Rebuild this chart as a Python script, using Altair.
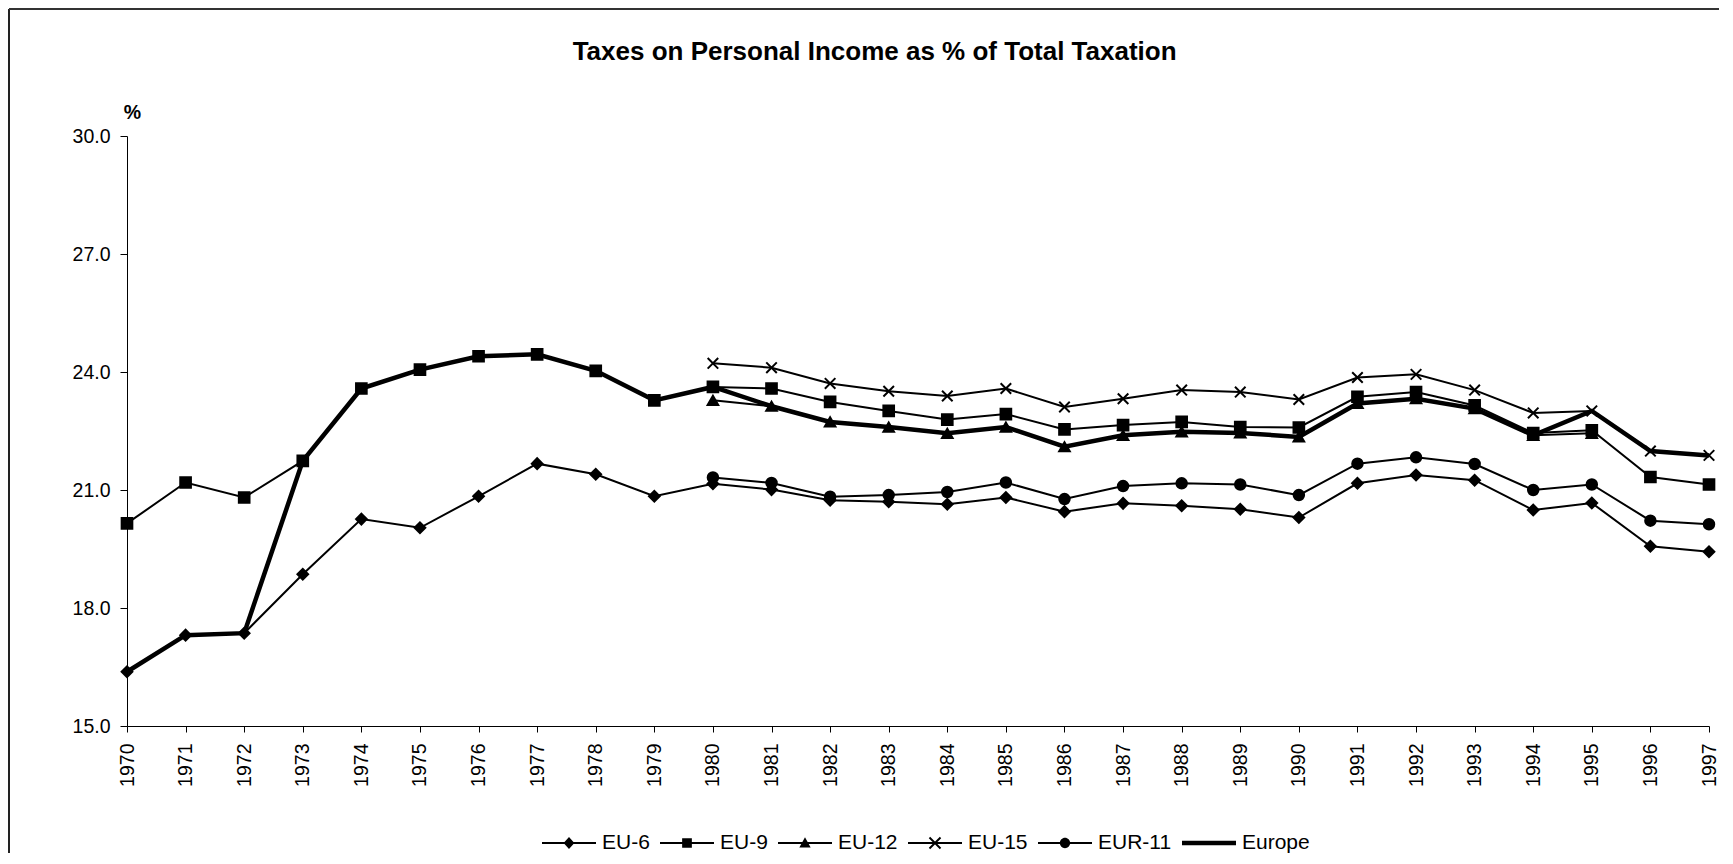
import altair as alt
import pandas as pd

TITLE = "Taxes on Personal Income as % of Total Taxation"
YEARS = list(range(1970, 1998))
SERIES = ["EU-6", "EU-9", "EU-12", "EU-15", "EUR-11", "Europe"]
Y_TICKS = [15, 18, 21, 24, 27, 30]

# values
EU6 = [16.38, 17.31, 17.36, 18.86, 20.26, 20.04, 20.84, 21.67, 21.40, 20.84,
       21.16, 21.01, 20.74, 20.70, 20.64, 20.81, 20.45, 20.66, 20.60, 20.51,
       20.30, 21.17, 21.38, 21.25, 20.49, 20.67, 19.57, 19.43]            # 1970-1997
EU9 = [20.15, 21.19, 20.81, 21.74, 23.58, 24.06, 24.40, 24.45, 24.03, 23.28,
       23.62, 23.58, 23.24, 23.01, 22.79, 22.93, 22.54, 22.65, 22.73, 22.60,
       22.59, 23.37, 23.49, 23.15, 22.45, 22.52, 21.33, 21.14]            # 1970-1997
EU12 = [23.28, 23.13, 22.73, 22.60, 22.44, 22.60, 22.10, 22.39, 22.48, 22.45,
        22.35, 23.20, 23.32, 23.07, 22.39, 22.44]                          # 1980-1995
EU15 = [24.22, 24.11, 23.71, 23.51, 23.39, 23.58, 23.11, 23.32, 23.54, 23.49,
        23.30, 23.86, 23.94, 23.54, 22.96, 23.01, 21.99, 21.88]            # 1980-1997
EUR11 = [21.32, 21.18, 20.83, 20.87, 20.95, 21.19, 20.77, 21.10, 21.17, 21.14,
         20.87, 21.67, 21.83, 21.66, 21.00, 21.14, 20.22, 20.13]           # 1980-1997
EUROPE = [16.38, 17.31, 17.36, 21.74, 23.58, 24.06, 24.40, 24.45, 24.03, 23.28,
          23.62, 23.13, 22.73, 22.60, 22.44, 22.60, 22.10, 22.39, 22.48, 22.45,
          22.35, 23.20, 23.32, 23.07, 22.39, 23.01, 21.99, 21.88]          # 1970-1997

STARTS = {"EU-6": 1970, "EU-9": 1970, "EU-12": 1980, "EU-15": 1980, "EUR-11": 1980, "Europe": 1970}
VALUES = {"EU-6": EU6, "EU-9": EU9, "EU-12": EU12, "EU-15": EU15, "EUR-11": EUR11, "Europe": EUROPE}

rows = []
for name in SERIES:
    for i, v in enumerate(VALUES[name]):
        rows.append({"year": STARTS[name] + i, "value": v, "series": name})
df = pd.DataFrame(rows)

FONT = "Liberation Sans"

# marker styles
X_PATH = "M-1,-1L1,1M-1,1L1,-1"
MARKERS = ["diamond", "square", "triangle-up", X_PATH, "circle"]
SIZES = [115, 110, 135, 160, 105]

# legend symbols: line + marker, drawn as filled paths in [-1,1] space
LINE = "M-1,-0.037H1V0.037H-1Z "
LEG_PATHS = [
    LINE + "M-0.2,0L0,-0.22L0.2,0L0,0.22Z",
    LINE + "M-0.18,-0.18H0.18V0.18H-0.18Z",
    LINE + "M0,-0.21L0.21,0.17H-0.21Z",
    LINE + "M-0.23,-0.18L-0.18,-0.23L0.23,0.18L0.18,0.23Z M-0.23,0.18L0.18,-0.23L0.23,-0.18L-0.18,0.23Z",
    LINE + "M-0.19,0A0.19,0.19 0 1,1 0.19,0A0.19,0.19 0 1,1 -0.19,0Z",
    "M-1,-0.085H1V0.085H-1Z",
]

x_enc = alt.X(
    "year:Q",
    scale=alt.Scale(domain=[1970, 1997], nice=False, zero=False),
    axis=alt.Axis(values=YEARS, format="d", labelAngle=-90, title=None,
                  tickSize=6, labelPadding=11, labelFontSize=19.5),
)
y_enc = alt.Y(
    "value:Q",
    scale=alt.Scale(domain=[15, 30], nice=False, zero=False),
    axis=alt.Axis(values=Y_TICKS, format=".1f", title="%", titleAngle=0,
                  titleX=5, titleY=-24, titleAlign="center", titleBaseline="middle",
                  titleFontWeight="bold", titleFontSize=19.5, titleFont=FONT,
                  titleColor="black", tickSize=7, labelPadding=10, labelFontSize=19.5),
)

base = alt.Chart(df)

thin = base.transform_filter(alt.datum.series != "Europe").mark_line(
    color="black", strokeWidth=2
).encode(x=x_enc, y=y_enc, detail="series:N")

thick = base.transform_filter(alt.datum.series == "Europe").mark_line(
    color="black", strokeWidth=4.5
).encode(x=x_enc, y=y_enc)

pts = base.transform_filter(alt.datum.series != "Europe").mark_point(
    filled=True, fill="black", stroke="black", strokeWidth=2, opacity=1
).encode(
    x=x_enc, y=y_enc,
    shape=alt.Shape("series:N", scale=alt.Scale(domain=SERIES[:5], range=MARKERS), legend=None),
    size=alt.Size("series:O", scale=alt.Scale(domain=SERIES[:5], range=SIZES), legend=None),
)

leg = base.transform_calculate(lg="datum.series").mark_point(
    filled=True, fill="black", opacity=0
).encode(
    x=x_enc, y=y_enc,
    shape=alt.Shape(
        "lg:N",
        scale=alt.Scale(domain=SERIES, range=LEG_PATHS),
        legend=alt.Legend(
            orient="none", legendX=415, legendY=680, direction="horizontal",
            columns=6, title=None, symbolSize=2916, symbolStrokeWidth=0,
            symbolFillColor="black", symbolOpacity=1, labelFontSize=21,
            labelFont=FONT, labelColor="black", labelOffset=6, columnPadding=10,
            padding=0, labelLimit=0,
        ),
    ),
)

one = pd.DataFrame({"t": [TITLE]})
title = alt.Chart(one).mark_text(
    font=FONT, fontSize=26, fontWeight="bold", align="center",
    baseline="alphabetic", color="black"
).encode(text="t:N", x=alt.value(747.6), y=alt.value(-76))

frame_left = alt.Chart(pd.DataFrame({"a": [0]})).mark_rule(
    color="#222", strokeWidth=2
).encode(x=alt.value(-118), y=alt.value(-127), y2=alt.value(740))
frame_top = alt.Chart(pd.DataFrame({"a": [0]})).mark_rule(
    color="#333", strokeWidth=2
).encode(x=alt.value(-118), x2=alt.value(1600), y=alt.value(-127))

chart = alt.layer(
    frame_left, frame_top, thin, thick, pts, leg, title
).resolve_scale(
    shape="independent", size="independent"
).properties(
    width=1582, height=590,
    autosize=alt.AutoSizeParams(type="none"),
    padding={"left": 119, "top": 128, "right": 10, "bottom": 127},
).configure_view(
    strokeWidth=0
).configure_axis(
    labelFont=FONT, labelColor="black", domainColor="black", tickColor="black",
    domainWidth=1, tickWidth=1, grid=False,
)

chart.save("out.html", embed_options={"renderer": "svg", "actions": False})
